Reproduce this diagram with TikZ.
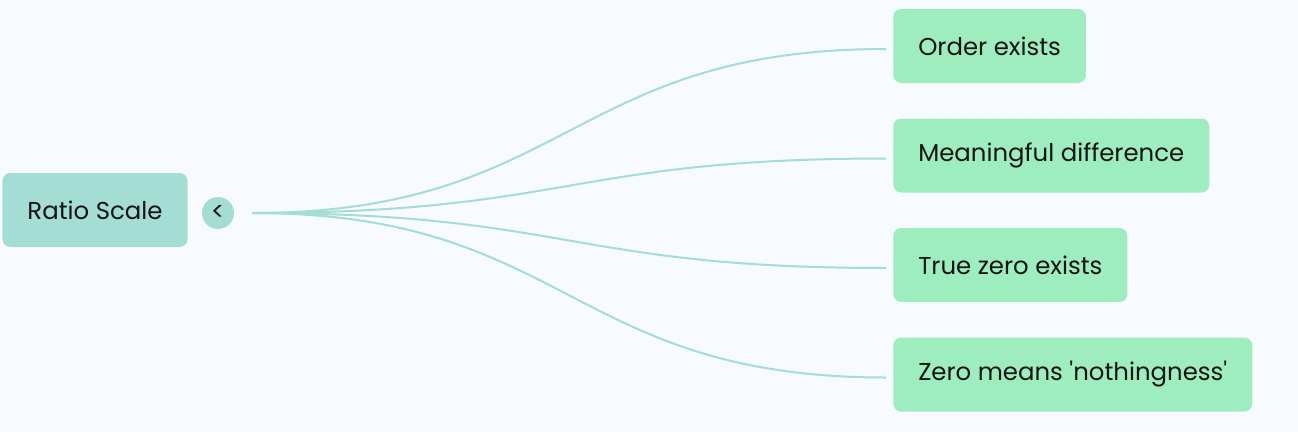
\documentclass[tikz,border=0pt]{standalone}
\usepackage{fontspec}
\setmainfont{Poppins}
\usetikzlibrary{positioning}
\definecolor{paper}{HTML}{F7FAFF}
\definecolor{rootgreen}{HTML}{A3DDD3}
\definecolor{leafgreen}{HTML}{9DEDBF}
\definecolor{inkblack}{HTML}{141414}
\newcommand\LeafX{893}
\tikzset{
  every picture/.style = {
    x=0.75pt,
    y=-0.75pt
  },
  topic/.style={
    shape = rectangle,
    rounded corners = 6pt,
    fill = rootgreen,
    text = inkblack,
    inner xsep = 18.75pt,
    minimum height = 55.5pt,
    font = \fontsize{18.3}{21}\selectfont
  },
  leaf/.style={
    topic,
    fill = leafgreen,
    anchor = west
  },
  toggle/.style={
    shape = circle,
    fill = rootgreen,
    text = inkblack,
    inner sep = 0pt,
    minimum size = 24pt,
    font = \fontsize{19}{21}\selectfont
  },
  link/.style={
    draw = rootgreen,
    line width = 1.5pt
  }
}
\begin{document}
\begin{tikzpicture}
    \fill[paper] (0,0) rectangle (1298,432);
    \useasboundingbox (0,0) rectangle (1298,432);

    % root and its fold button
    \node[topic] (ratio) at (95,210) {Ratio Scale};
    \node[toggle] (fold) at (218,213) {<};
    \coordinate (hub) at (252,213);

    % the four properties
    \node[leaf] (order) at (\LeafX,46) {Order exists};
    \node[leaf] (diff) at (\LeafX,155.5) {Meaningful difference};
    \node[leaf] (zero) at (\LeafX,265) {True zero exists};
    \node[leaf] (nothing) at (\LeafX,374.5) {Zero means \textquotesingle nothingness\textquotesingle};

    \foreach \leafname in {order,diff,zero,nothing}
        \draw[link] (hub) .. controls +(317,0) and +(-317,0) .. ([shift={(-7,3)}]\leafname.west);
\end{tikzpicture}
\end{document}
